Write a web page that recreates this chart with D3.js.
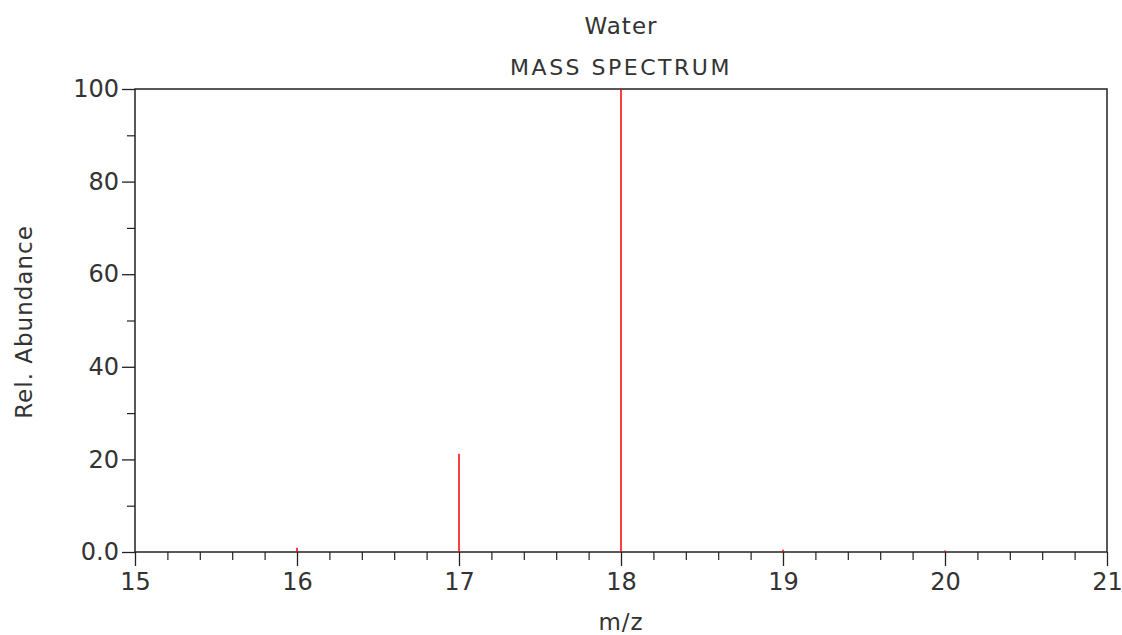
<!DOCTYPE html>
<html><head><meta charset="utf-8">
<script src="https://cdn.jsdelivr.net/npm/d3@7"></script>
<style>body{margin:0;background:#fff}svg{display:block}text{font-family:"DejaVu Sans",sans-serif;fill:#333}</style>
</head><body><svg id="c" width="1122" height="635"></svg>
<script>
const mz = [16, 17, 18, 19, 20];
const abundance = [0.9, 21.2, 100, 0.5, 0.3];
const xMajorTicks = [15, 16, 17, 18, 19, 20, 21];
const yMajorTicks = [0, 20, 40, 60, 80, 100];
const yTickLabels = ["0.0", "20", "40", "60", "80", "100"];
const titleLines = ["Water", "MASS SPECTRUM"];

const svg = d3.select("#c");
const L = 135, R = 1107, T = 89, B = 552;
const x = d3.scaleLinear().domain([15, 21]).range([L, R]);
const y = d3.scaleLinear().domain([0, 100]).range([B, T]);

// minor ticks
const xMinor = d3.range(15, 21.001, 0.2).filter(v => Math.abs(v - Math.round(v)) > 1e-6);
const yMinor = d3.range(10, 100, 20);
svg.append("g").attr("transform", `translate(0,${B})`)
  .call(d3.axisBottom(x).tickValues(xMinor).tickSize(8).tickFormat(""))
  .call(g => g.select(".domain").remove())
  .selectAll("line").attr("stroke", "#222").attr("stroke-width", 1.2);
svg.append("g").attr("transform", `translate(${L},0)`)
  .call(d3.axisLeft(y).tickValues(yMinor).tickSize(8).tickFormat(""))
  .call(g => g.select(".domain").remove())
  .selectAll("line").attr("stroke", "#222").attr("stroke-width", 1.2);

// major axes
const xa = svg.append("g").attr("transform", `translate(0,${B})`)
  .call(d3.axisBottom(x).tickValues(xMajorTicks).tickSize(14).tickPadding(7).tickFormat(d3.format("d")));
xa.select(".domain").remove();
xa.selectAll("line").attr("stroke", "#222").attr("stroke-width", 1.3);
xa.selectAll("text").attr("font-size", 24).attr("fill", "#333").style("font-family", "DejaVu Sans");

const ya = svg.append("g").attr("transform", `translate(${L},0)`)
  .call(d3.axisLeft(y).tickValues(yMajorTicks).tickSize(13).tickPadding(3).tickFormat((d, i) => yTickLabels[i]));
ya.select(".domain").remove();
ya.selectAll("line").attr("stroke", "#222").attr("stroke-width", 1.3);
ya.selectAll("text").attr("font-size", 24).attr("fill", "#333").style("font-family", "DejaVu Sans");

// frame
svg.append("rect").attr("x", L).attr("y", T).attr("width", R - L).attr("height", B - T)
  .attr("fill", "none").attr("stroke", "#222").attr("stroke-width", 1.5);

// spectrum lines
svg.append("g").selectAll("line").data(mz).join("line")
  .attr("x1", d => x(d)).attr("x2", d => x(d))
  .attr("y1", y(0)).attr("y2", (d, i) => y(abundance[i]))
  .attr("stroke", "#ff0000").attr("stroke-width", 1.5);

// titles
svg.append("text").attr("x", 621).attr("y", 34).attr("text-anchor", "middle")
  .attr("font-size", 23).attr("letter-spacing", 1).text(titleLines[0]);
svg.append("text").attr("x", 621).attr("y", 75).attr("text-anchor", "middle")
  .attr("font-size", 22).attr("letter-spacing", 2.5).text(titleLines[1]);

// axis titles
svg.append("text").attr("x", 621).attr("y", 630).attr("text-anchor", "middle")
  .attr("font-size", 23).attr("letter-spacing", 1).text("m/z");
svg.append("text").attr("transform", "translate(32,322) rotate(-90)").attr("text-anchor", "middle")
  .attr("font-size", 23).attr("letter-spacing", 1).text("Rel. Abundance");
</script></body></html>
